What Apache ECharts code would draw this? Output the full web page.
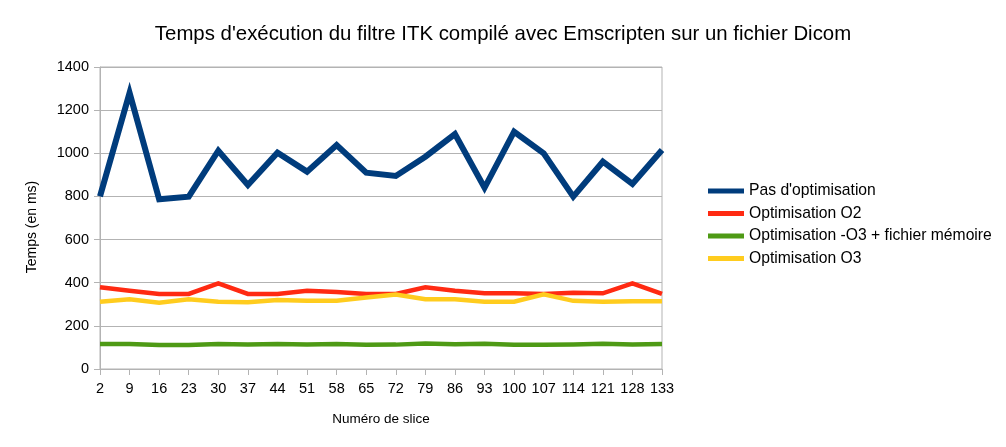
<!DOCTYPE html>
<html><head><meta charset="utf-8">
<script src="https://cdn.jsdelivr.net/npm/echarts@6/dist/echarts.min.js"></script>
<style>html,body{margin:0;padding:0;background:#fff}#c{width:1006px;height:447px}</style>
</head><body><div id="c"></div>
<script>
const categories = ['2','9','16','23','30','37','44','51','58','65','72','79','86','93','100','107','114','121','128','133'];
const pasOptim = [800,1280,787,799,1012,853,1003,915,1038,910,895,984,1089,840,1100,1000,799,961,858,1015];
const optimO2 = [379,363,348,348,397,348,348,363,357,348,348,379,363,351,351,348,354,351,397,348];
const optimO3Mem = [116,116,111,111,116,114,116,113,116,112,113,118,115,117,112,112,113,117,114,116];
const optimO3 = [312,323,307,323,312,309,320,316,316,331,345,323,323,312,312,346,316,312,314,314];
const names = ["Pas d'optimisation","Optimisation O2","Optimisation -O3 + fichier mémoire","Optimisation O3"];
const colors = ['#003c7c','#ff2a12','#4e9a15','#ffcc1e'];
const font = 'Liberation Sans, Arial, sans-serif';
const chart = echarts.init(document.getElementById('c'), null, {renderer:'canvas'});
const mk = (i, data, w) => ({name:names[i], type:'line', data, symbol:'none', lineStyle:{width:w, color:colors[i], join:'miter'}, itemStyle:{color:colors[i]}, animation:false});
chart.setOption({
  animation:false,
  title:{text:"Temps d'exécution du filtre ITK compilé avec Emscripten sur un fichier Dicom", left:'center', top:19, textStyle:{fontFamily:font, fontSize:20.4, fontWeight:'normal', color:'#000'}},
  legend:{orient:'vertical', left:703, top:178, itemWidth:36, itemHeight:5, itemGap:6.5, icon:'rect', textStyle:{fontFamily:font, fontSize:15.7, color:'#000'}, data:names},
  grid:{left:100, right:344, top:67, bottom:78, show:true, borderColor:'#b3b3b3', borderWidth:1},
  xAxis:{type:'category', data:categories, boundaryGap:false, name:'Numéro de slice', nameLocation:'middle', nameGap:43, nameTextStyle:{fontFamily:font, fontSize:13.5, color:'#000'},
    axisLine:{lineStyle:{color:'#b3b3b3'}}, axisTick:{show:true, alignWithLabel:true, length:6, lineStyle:{color:'#b3b3b3'}}, axisLabel:{fontFamily:font, fontSize:14.5, color:'#000', margin:12, interval:0}},
  yAxis:{type:'value', min:0, max:1400, interval:200, name:'Temps (en ms)', nameLocation:'middle', nameGap:61, nameTextStyle:{fontFamily:font, fontSize:14, color:'#000', padding:[0,18,0,0]},
    axisLine:{show:true, lineStyle:{color:'#b3b3b3'}}, axisTick:{show:true, length:6, lineStyle:{color:'#b3b3b3'}}, axisLabel:{fontFamily:font, fontSize:14.5, color:'#000', margin:11, formatter:v=>String(v)}, splitLine:{lineStyle:{color:'#b3b3b3'}}},
  series:[mk(0,pasOptim,6), mk(1,optimO2,4.5), mk(2,optimO3Mem,4.5), mk(3,optimO3,4.5)]
});
</script></body></html>
